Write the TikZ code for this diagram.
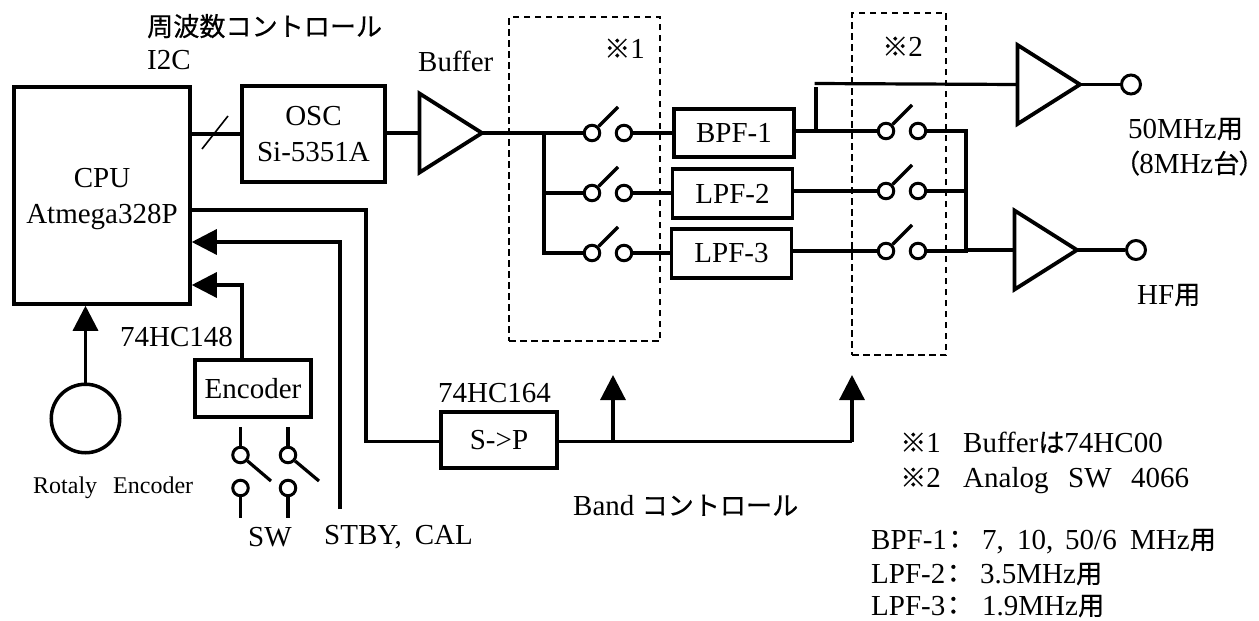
\documentclass[tikz,border=0pt]{standalone}
\usepackage{fontspec}
\setmainfont{Liberation Serif}
\newfontfamily\jpfont[Scale=0.9,FakeBold=0.5]{Noto Sans CJK JP}
\newfontfamily\jphalf[Scale=0.9,FakeBold=0.5,RawFeature=+palt]{Noto Sans CJK JP}
\usetikzlibrary{arrows.meta,shapes.geometric}
\newcommand{\jp}[1]{{\jpfont #1}}
\newcommand{\jh}[1]{{\jphalf #1}}
\tikzset{
    every picture/.style={font=\fontsize{29}{36}\selectfont},
    block/.style={draw, line width=3.5pt, align=center, inner sep=0pt},
    amp/.style={draw, line width=3.8pt, isosceles triangle, isosceles triangle stretches, shape border rotate=0, minimum width=79pt, minimum height=62.5pt, inner sep=0pt, outer sep=0pt, anchor=west},
    contact/.style={draw, circle, line width=3pt, fill=white, minimum size=15.5pt, inner sep=0pt},
    port/.style={draw, circle, line width=3pt, fill=white, minimum size=19pt, inner sep=0pt},
    group/.style={draw, line width=1.4pt, dash pattern=on 6.5pt off 4.5pt, inner sep=0pt},
    label/.style={anchor=base west, inner sep=0pt},
    wire/.style={line width=3.2pt},
    sig/.style={-{Triangle[length=25pt,width=25pt]}, line width=3.2pt},
    thinwire/.style={line width=1.6pt}
}
\begin{document}
\begin{tikzpicture}[x=1pt,y=-1pt]
\useasboundingbox (0,0) rectangle (1259,621);
\node[group, minimum width=151pt, minimum height=324pt] (grp1) at (584.5,179) {};
\node[group, minimum width=94pt, minimum height=342pt] (grp2) at (899,184) {};
\node[block, minimum width=176pt, minimum height=217pt, text depth=0pt] (cpu) at (102,195.5) {CPU\\Atmega328P};
\node[block, minimum width=143pt, minimum height=96pt] (osc) at (313.5,134) {OSC\\Si-5351A};
\node[block, minimum width=120pt, minimum height=48pt] (bpf1) at (734,133) {BPF-1};
\node[block, minimum width=120pt, minimum height=49pt] (lpf2) at (732.5,193.5) {LPF-2};
\node[block, minimum width=120pt, minimum height=49pt] (lpf3) at (731.5,253.5) {LPF-3};
\node[block, minimum width=116pt, minimum height=57pt] (enc) at (253,388.5) {Encoder};
\node[block, minimum width=116pt, minimum height=56pt] (sp) at (499,440) {S->P};
\node[amp] (buf) at (419.5,133) {};
\node[amp] (amp1) at (1017.5,84.5) {};
\node[amp] (amp2) at (1014.5,250) {};
\node[port] (out1) at (1131,84.5) {};
\node[port] (out2) at (1136,250) {};
\node[draw, circle, line width=3.5pt, minimum size=68.5pt, inner sep=0pt] (rot) at (85.5,418.5) {};
\node[contact] (s1l) at (592,133) {}; \node[contact] (s1r) at (624,133) {};
\node[contact] (s2l) at (592,193) {}; \node[contact] (s2r) at (624,193) {};
\node[contact] (s3l) at (592,253) {}; \node[contact] (s3r) at (624,253) {};
\node[contact] (t1l) at (886,131) {}; \node[contact] (t1r) at (918,131) {};
\node[contact] (t2l) at (886,191) {}; \node[contact] (t2r) at (918,191) {};
\node[contact] (t3l) at (886,251) {}; \node[contact] (t3r) at (918,251) {};
\node[contact] (swa1) at (240.5,455) {}; \node[contact] (swa2) at (240.5,488) {};
\node[contact] (swb1) at (288,455) {}; \node[contact] (swb2) at (288,488) {};
\coordinate (s1e) at (618,107); \coordinate (s2e) at (618,167); \coordinate (s3e) at (618,227);
\coordinate (t1e) at (912,105); \coordinate (t2e) at (912,165); \coordinate (t3e) at (912,225);
\coordinate (swae) at (271,481); \coordinate (swbe) at (319,481);
\coordinate (swat) at (240.5,427); \coordinate (swab) at (240.5,518);
\coordinate (swbt) at (288,427); \coordinate (swbb) at (288,518);
\coordinate (ja) at (544,133); \coordinate (jb) at (816,131); \coordinate (jc) at (816,87); \coordinate (jd) at (814.5,83.5);
\coordinate (je) at (966,131); \coordinate (jf) at (966,250);
\coordinate (sla) at (202,149); \coordinate (slb) at (228,116);
\coordinate (c1) at (366,210); \coordinate (c2) at (340,242); \coordinate (c3) at (340,509); \coordinate (c4) at (242,285);
\coordinate (b1) at (613,441.5); \coordinate (b1t) at (613,375); \coordinate (b2) at (852,441.5); \coordinate (b2t) at (852,375);
\draw[wire] (cpu.east |- osc) -- (osc); \draw[thinwire] (sla) -- (slb);
\draw[wire] (osc.east |- buf.west) -- (buf.west); \draw[wire] (buf.apex) -- (s1l);
\draw[wire] (ja) -- (ja |- s3l) -- (s3l); \draw[wire] (ja |- s2l) -- (s2l);
\draw[wire] (s1r) -- (bpf1); \draw[wire] (s2r) -- (s2r -| lpf2.west); \draw[wire] (s3r) -- (s3r -| lpf3.west);
\draw[wire] (s1l) -- (s1e); \draw[wire] (s2l) -- (s2e); \draw[wire] (s3l) -- (s3e);
\draw[wire] (bpf1.east |- t1l) -- (t1l); \draw[wire] (lpf2.east |- t2l) -- (t2l); \draw[wire] (lpf3.east |- t3l) -- (t3l);
\draw[wire] (t1l) -- (t1e); \draw[wire] (t2l) -- (t2e); \draw[wire] (t3l) -- (t3e);
\draw[wire] (jb) -- (jc); \draw[wire] (jd) -- (amp1.west);
\draw[wire] (t1r) -- (je) -- (t3r -| je) -- (t3r); \draw[wire] (t2r) -- (t2r -| je);
\draw[wire] (jf) -- (amp2.west);
\draw[wire] (amp1.apex) -- (out1); \draw[wire] (amp2.apex) -- (out2);
\draw[wire] (c1 -| cpu.east) -- (c1) -- (c1 |- b1) -- (b1 -| sp.west);
\draw[sig] (c3) -- (c2) -- (c2 -| cpu.east);
\draw[sig] (c4 |- enc.north) -- (c4) -- (c4 -| cpu.east);
\draw[sig] (rot) -- (rot |- cpu.south);
\draw[wire] (swat) -- (swa1); \draw[wire] (swa2) -- (swab); \draw[wire] (swa1) -- (swae);
\draw[wire] (swbt) -- (swb1); \draw[wire] (swb2) -- (swbb); \draw[wire] (swb1) -- (swbe);
\draw[wire] (sp.east |- b1) -- (b2); \draw[sig] (b2) -- (b2t); \draw[sig] (b1) -- (b1t);
\node[label] (tfreq) at (147,36) {\jp{周波数コントロール}};
\node[label] (ti2c) at (147,69) {I2C};
\node[label] (tbuf) at (418,71.5) {Buffer};
\node[label] (tn1) at (604,58) {\jp{※}1};
\node[label] (tn2) at (882,56) {\jp{※}2};
\node[label] (t50) at (1128,138) {50MHz\jp{用}};
\node[label] (t8) at (1126,173) {\jh{（}8MHz\jp{台}\jh{）}};
\node[label] (thf) at (1137,304) {HF\jp{用}};
\node[label] (t148) at (120,346) {74HC148};
\node[label] (t164) at (438,402) {74HC164};
\node[label] (tband) at (573,515) {Band \jp{コントロール}};
\node[label, font=\fontsize{24}{30}\selectfont] (trot) at (33,493) {Rotaly\hspace{16pt}Encoder};
\node[label] (tsw) at (248,546) {SW};
\node[label] (tstby) at (324,544) {STBY,\hspace{13pt}CAL};
\node[label] (tm1) at (900,452) {\makebox[63pt][l]{\jp{※}1}Buffer\jp{は}74HC00};
\node[label] (tm2) at (900,487) {\makebox[63pt][l]{\jp{※}2}\makebox[105pt][l]{Analog}\makebox[63pt][l]{SW}4066};
\node[label] (tb1) at (871,549) {\makebox[111pt][l]{BPF-1\hspace{-5pt}\jp{：}}\makebox[35pt][l]{7,}\makebox[48pt][l]{10,}\makebox[65pt][l]{50/6}MHz\jp{用}};
\node[label] (tb2) at (871,583) {\makebox[109pt][l]{LPF-2\hspace{-5pt}\jp{：}}3.5MHz\jp{用}};
\node[label] (tb3) at (871,615) {\makebox[111pt][l]{LPF-3\hspace{-5pt}\jp{：}}1.9MHz\jp{用}};
\end{tikzpicture}
\end{document}
